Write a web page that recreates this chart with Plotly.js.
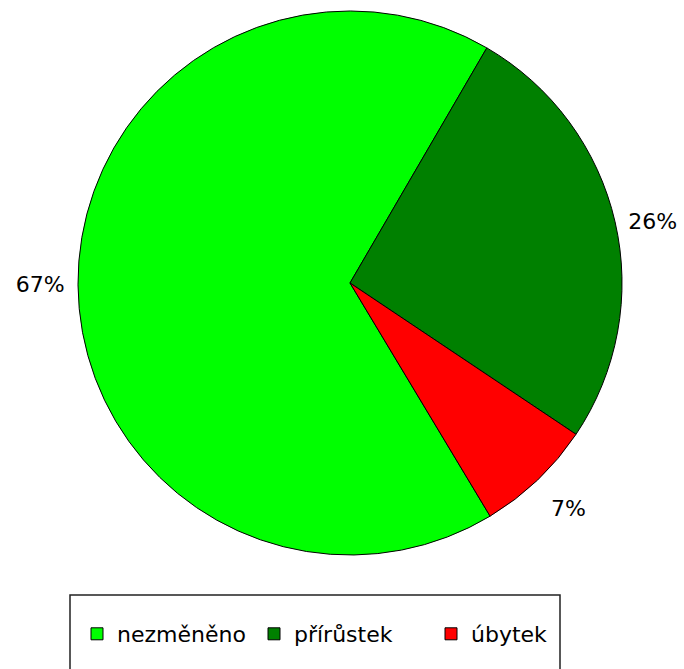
<!DOCTYPE html>
<html>
<head>
<meta charset="utf-8">
<script src="https://cdn.plot.ly/plotly-3.0.1.min.js"></script>
<style>html,body{margin:0;padding:0;background:#fff;}#chart{width:684px;height:669px;}</style>
</head>
<body>
<div id="chart"></div>
<script>
var labels = ["nezměněno", "přírůstek", "úbytek"];
var values = [67, 26, 7];
var colors = ["#00FF00", "#008000", "#FF0000"];

var NB = "\u00a0";
var trace = {
  type: "pie",
  labels: labels,
  values: values,
  sort: false,
  direction: "clockwise",
  rotation: 149,
  textinfo: "percent",
  textposition: "outside",
  texttemplate: [
    "%{percent:.0%}" + NB,
    NB + "%{percent:.0%}",
    NB + "<br>%{percent:.0%}"
  ],
  outsidetextfont: {family: "DejaVu Sans", size: 22, color: "#000"},
  marker: {colors: colors, line: {color: "#000", width: 1}},
  domain: {x: [0.114, 0.9094], y: [0.1704, 0.9836]},
  hoverinfo: "label+percent"
};

var layout = {
  width: 684,
  height: 669,
  margin: {l: 0, r: 0, t: 0, b: 0},
  paper_bgcolor: "#fff",
  showlegend: true,
  legend: {
    orientation: "h",
    x: 77/684,
    xanchor: "left",
    y: 1 - 634/669,
    yanchor: "middle",
    font: {family: "DejaVu Sans", size: 22, color: "#000"},
    entrywidth: 132,
    entrywidthmode: "pixels",
    bgcolor: "rgba(0,0,0,0)",
    borderwidth: 0
  },
  shapes: [{
    type: "rect", xref: "paper", yref: "paper",
    x0: 70/684, x1: 560/684, y0: -0.05, y1: 1 - 595/669,
    line: {color: "#222", width: 1.5}, fillcolor: "rgba(0,0,0,0)", layer: "below"
  }]
};

Plotly.newPlot("chart", [trace], layout, {displayModeBar: false, staticPlot: true});
</script>
</body>
</html>
